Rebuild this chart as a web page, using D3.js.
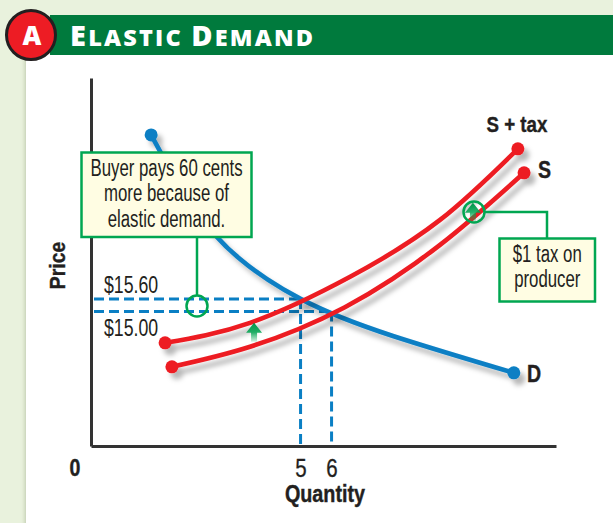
<!DOCTYPE html>
<html>
<head>
<meta charset="utf-8">
<script src="https://cdn.jsdelivr.net/npm/d3@7"></script>
<style>
html, body { margin: 0; padding: 0; background: #e9f2dd; }
text { font-family: "Liberation Sans", sans-serif; fill: #231f20; }
.bold { font-weight: bold; stroke: #231f20; stroke-width: 0.4px; }
</style>
</head>
<body>
<div id="chart-container"></div>
<script>
// 数据 (quantity, price)
const demandQ = [0.18, 2.24, 5, 7.98, 11.88];
const demandP = [23.47, 18.67, 15.6, 13.82, 12.05];
const taxQ = [0.63, 3.37, 6.6, 9.5, 12.01];
const taxP = [13.49, 14.45, 16.66, 19.39, 22.8];
const supplyQ = [0.85, 3.37, 6.43, 9.5, 12.21];
const supplyP = [12.34, 13.3, 15.2, 18.19, 21.65];
const priceLevels = [15.6, 15];
const priceLabels = ["$15.60", "$15.00"];
const quantityTicks = [5, 6];
const arrowQ = [3.5, 10.56];
const arrowP = [13.97, 19.73];
const buyerNote = ["Buyer pays 60 cents", "more because of", "elastic demand."];
const taxNote = ["$1 tax on", "producer"];

const width = 613;
const height = 523;

const svg = d3.select("#chart-container")
    .append("svg")
    .attr("width", width)
    .attr("height", height)
    .style("display", "block");

const defs = svg.append("defs");

// 曲线阴影
const shadow = defs.append("filter").attr("id", "shadow")
    .attr("x", "-10%").attr("y", "-20%").attr("width", "120%").attr("height", "150%");
shadow.append("feDropShadow")
    .attr("dx", 5).attr("dy", 6).attr("stdDeviation", 2.5)
    .attr("flood-color", "#000").attr("flood-opacity", 0.28);

const panelShadow = defs.append("filter").attr("id", "panelShadow")
    .attr("x", "-5%").attr("y", "-5%").attr("width", "110%").attr("height", "110%");
panelShadow.append("feDropShadow")
    .attr("dx", -1).attr("dy", 0).attr("stdDeviation", 2)
    .attr("flood-color", "#7c8a60").attr("flood-opacity", 0.4);

const arrowFade = defs.append("linearGradient").attr("id", "arrowFade")
    .attr("x1", 0).attr("y1", 0).attr("x2", 0).attr("y2", 1);
arrowFade.append("stop").attr("offset", 0).attr("stop-color", "#00934a");
arrowFade.append("stop").attr("offset", 0.5).attr("stop-color", "#00a651").attr("stop-opacity", 0.85);
arrowFade.append("stop").attr("offset", 1).attr("stop-color", "#00a651").attr("stop-opacity", 0.15);

// 窄字体文字 (没有安装窄体, 用水平缩放)
function label(x, y, txt, size, sx, anchor, cls) {
    return svg.append("text")
        .attr("transform", `translate(${x},${y}) scale(${sx},1)`)
        .attr("text-anchor", anchor)
        .attr("class", cls || null)
        .style("font-size", size + "px")
        .text(txt);
}

// 背景和标题
svg.append("rect").attr("width", width).attr("height", height).attr("fill", "#e9f2dd");
svg.append("rect").attr("x", 26).attr("y", 50).attr("width", 600).attr("height", 490)
    .attr("fill", "#fff").attr("filter", "url(#panelShadow)");
svg.append("rect").attr("x", 50).attr("y", 15).attr("width", 563).attr("height", 40).attr("fill", "#007a3d");
svg.append("circle").attr("cx", 31).attr("cy", 35).attr("r", 24.5)
    .attr("fill", "#ed1c24").attr("stroke", "#231f20").attr("stroke-width", 3);
svg.append("text").attr("x", 32).attr("y", 45).attr("text-anchor", "middle")
    .style("font-family", "'Open Sans', sans-serif").style("font-weight", 800)
    .style("font-size", "26px").style("fill", "#fff").text("A");

const title = svg.append("text").attr("x", 70).attr("y", 46)
    .style("font-family", "'Open Sans', sans-serif").style("font-weight", 800)
    .style("fill", "#fff").style("letter-spacing", "2.2px");
[["E", 29], ["LASTIC ", 23.5], ["D", 29], ["EMAND", 23.5]].forEach(p => {
    title.append("tspan").style("font-size", p[1] + "px").style("fill", "#fff").text(p[0]);
});

// 比例尺
const xScale = d3.scaleLinear().domain([-1.76, 13.24]).range([91, 556]);
const yScale = d3.scaleLinear().domain([8.54, 26.2]).range([446, 78]);

const line = d3.line()
    .x(d => xScale(d[0]))
    .y(d => yScale(d[1]))
    .curve(d3.curveNatural);

// 虚线
const dash = svg.append("g")
    .attr("fill", "none").attr("stroke", "#0a7fc4").attr("stroke-width", 3).attr("stroke-dasharray", "10 5");
priceLevels.forEach((p, i) => {
    dash.append("line")
        .attr("x1", xScale.range()[0] + 3).attr("x2", xScale(quantityTicks[i]))
        .attr("y1", yScale(p)).attr("y2", yScale(p));
    dash.append("line")
        .attr("x1", xScale(quantityTicks[i])).attr("x2", xScale(quantityTicks[i]))
        .attr("y1", yScale(p)).attr("y2", yScale.range()[0]);
});

// 坐标轴
const xAxis = svg.append("g").attr("transform", "translate(0,446)")
    .call(d3.axisBottom(xScale).tickValues(quantityTicks).tickSize(0).tickPadding(13));
const yAxis = svg.append("g").attr("transform", "translate(91,0)")
    .call(d3.axisLeft(yScale).tickValues([]).tickSize(0));
[xAxis, yAxis].forEach(a => {
    a.select(".domain").attr("stroke", "#333").attr("stroke-width", 3);
});
xAxis.selectAll(".tick text")
    .style("font-size", "25px").style("fill", "#231f20")
    .style("stroke", "#231f20").style("stroke-width", "0.3px")
    .attr("transform", "scale(0.82,1)");

label(75, 476, "0", 23, 0.85, "middle", "bold");
label(325, 502, "Quantity", 23, 0.86, "middle", "bold");
svg.append("text").attr("transform", "translate(65,265.5) rotate(-90) scale(0.88,1)").attr("text-anchor", "middle")
    .attr("class", "bold").style("font-size", "22px").text("Price");

// 价格标签
label(104, yScale(priceLevels[0]) - 6, priceLabels[0], 23, 0.77, "start");
label(104, yScale(priceLevels[1]) + 24.5, priceLabels[1], 23, 0.77, "start");

// 曲线
const curves = [
    { q: demandQ, p: demandP, color: "#0a7fc4", r: 6.5 },
    { q: supplyQ, p: supplyP, color: "#ed1c24", r: 6.5 },
    { q: taxQ, p: taxP, color: "#ed1c24", r: 6.5 }
];
curves.forEach(c => {
    const pts = d3.zip(c.q, c.p);
    const g = svg.append("g").attr("filter", "url(#shadow)");
    g.append("path").datum(pts)
        .attr("fill", "none").attr("stroke", c.color).attr("stroke-width", 4.6)
        .attr("stroke-linecap", "round").attr("d", line);
    g.selectAll("circle").data([pts[0], pts[pts.length - 1]]).enter().append("circle")
        .attr("cx", d => xScale(d[0])).attr("cy", d => yScale(d[1]))
        .attr("r", c.r).attr("fill", c.color);
});

// 曲线名称
label(517, 132, "S + tax", 22, 0.85, "middle", "bold");
label(538, 178, "S", 23, 0.85, "start", "bold");
label(527, 382, "D", 23, 0.85, "start", "bold");

// 注释框
const green = "#00a651";
const notes = svg.append("g").attr("fill", "none").attr("stroke", green).attr("stroke-width", 2.5);
notes.append("path").attr("d", d3.line()([[197, 237], [197, 295]]));
notes.append("path").attr("d", d3.line()([[485, 212], [547, 212], [547, 238]]));

// 绿色箭头
svg.selectAll(".arrow").data(d3.zip(arrowQ, arrowP)).enter().append("path")
    .attr("class", "arrow")
    .attr("transform", d => `translate(${xScale(d[0])},${yScale(d[1])})`)
    .attr("d", "M0,-10L8,0L3,0L3,9L-3,9L-3,0L-8,0Z")
    .attr("fill", "url(#arrowFade)");

notes.append("circle").attr("cx", 197).attr("cy", 306).attr("r", 10.5);
svg.append("circle").attr("cx", 474).attr("cy", 212).attr("r", 10.5)
    .attr("fill", "none").attr("stroke", green).attr("stroke-width", 2.5);

function noteBox(x, y, w, h, lines, firstY, step) {
    svg.append("rect").attr("x", x).attr("y", y).attr("width", w).attr("height", h)
        .attr("fill", "#fffde3").attr("stroke", green).attr("stroke-width", 2.5);
    lines.forEach((t, i) => {
        label(x + w / 2, firstY + i * step, t, 23, 0.73, "middle");
    });
}
noteBox(81.5, 152.5, 170, 84.5, buyerNote, 176, 25.3);
noteBox(499.5, 238.5, 95.5, 63, taxNote, 262, 25.3);
</script>
</body>
</html>
